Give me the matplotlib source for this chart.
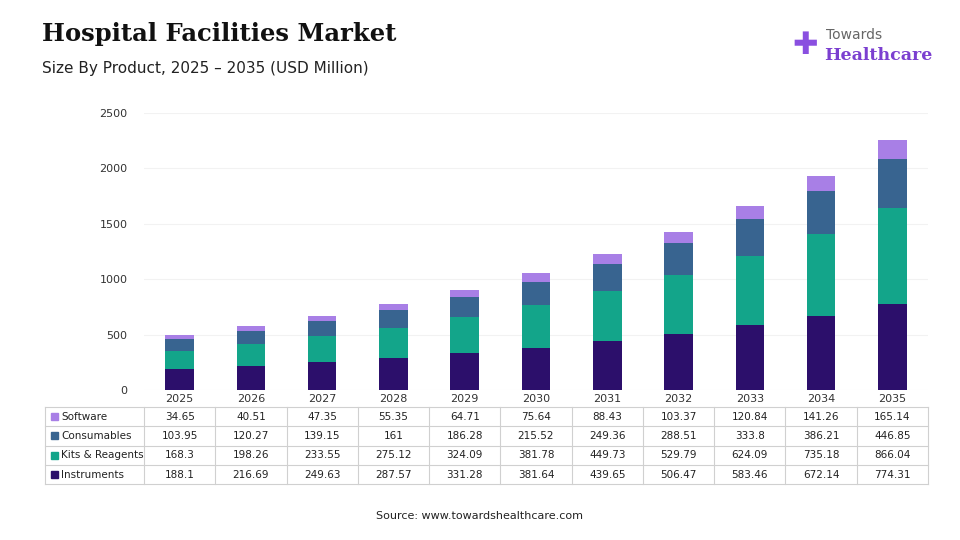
import matplotlib.pyplot as plt
from matplotlib.patches import Rectangle

years = ['2025', '2026', '2027', '2028', '2029', '2030', '2031', '2032', '2033', '2034', '2035']
series = ['Instruments', 'Kits & Reagents', 'Consumables', 'Software']
instruments = [188.1, 216.69, 249.63, 287.57, 331.28, 381.64, 439.65, 506.47, 583.46, 672.14, 774.31]
kits = [168.3, 198.26, 233.55, 275.12, 324.09, 381.78, 449.73, 529.79, 624.09, 735.18, 866.04]
consumables = [103.95, 120.27, 139.15, 161, 186.28, 215.52, 249.36, 288.51, 333.8, 386.21, 446.85]
software = [34.65, 40.51, 47.35, 55.35, 64.71, 75.64, 88.43, 103.37, 120.84, 141.26, 165.14]
colors = ['#2c0f6b', '#13a58a', '#386490', '#a87fe6']

fig = plt.figure(figsize=(9.6, 5.4), dpi=100)
W, H = 960, 540
ax = fig.add_axes([144 / W, 1 - 390 / H, (928 - 144) / W, (390 - 113) / H])

x = list(range(len(years)))
bottom = [0] * len(years)
for name, vals, c in zip(series, [instruments, kits, consumables, software], colors):
    ax.bar(x, vals, 0.4, bottom=bottom, color=c, label=name, zorder=2)
    bottom = [b + v for b, v in zip(bottom, vals)]

ax.set_xlim(-0.5, len(years) - 0.5)
ax.set_ylim(0, 2500)
ax.set_yticks(range(0, 2501, 500))
ax.tick_params(axis='y', labelsize=8, length=0, pad=12, colors='#333333')
ax.set_xticks(x)
ax.set_xticklabels(years)
ax.tick_params(axis='x', labelsize=8, length=0, pad=3, colors='#333333')
ax.grid(axis='y', color='#f2f2f2', lw=0.8, zorder=0)
for s in ax.spines.values():
    s.set_visible(False)

# data table below the chart
rows = [('Software', software, colors[3]), ('Consumables', consumables, colors[2]),
        ('Kits & Reagents', kits, colors[1]), ('Instruments', instruments, colors[0])]
top, rh = 407, 19.3
left0 = 45
colw = (928 - 144) / len(years)
lc = '#d0d0d0'
for i, (name, vals, c) in enumerate(rows):
    y0 = top + i * rh
    yc = 1 - (y0 + rh / 2) / H
    fig.patches.append(Rectangle((51 / W, yc - 3.5 / H), 7 / W, 7 / H, color=c, transform=fig.transFigure))
    fig.text(61 / W, yc, name, fontsize=7.5, va='center', color='#222222')
    for j, v in enumerate(vals):
        fig.text((144 + (j + 0.5) * colw) / W, yc, f'{v:g}', fontsize=7.5, ha='center', va='center', color='#222222')
for i in range(len(rows) + 1):
    yy = 1 - (top + i * rh) / H
    fig.add_artist(plt.Line2D([left0 / W, 928 / W], [yy, yy], color=lc, lw=0.8))
for xx in [left0] + [144 + j * colw for j in range(len(years) + 1)]:
    fig.add_artist(plt.Line2D([xx / W, xx / W], [1 - top / H, 1 - (top + 4 * rh) / H], color=lc, lw=0.8))

fig.text(42 / W, 1 - 34 / H, 'Hospital Facilities Market', fontsize=17.5, fontweight='bold',
         family='DejaVu Serif', va='center', color='#111111')
fig.text(42 / W, 1 - 68 / H, 'Size By Product, 2025 – 2035 (USD Million)', fontsize=11, va='center', color='#222222')
fig.text(480 / W, 1 - 516 / H, 'Source: www.towardshealthcare.com', fontsize=8, ha='center', va='center', color='#222222')

# logo
fig.text(826 / W, 1 - 35 / H, 'Towards', fontsize=10, va='center', color='#666666')
fig.text(824 / W, 1 - 55 / H, 'Healthcare', fontsize=12.5, fontweight='bold', family='DejaVu Serif',
         va='center', color='#7b3fd0')
fig.text(805 / W, 1 - 45 / H, '✚', fontsize=22, ha='center', va='center', color='#8a4fe0')

fig.savefig('out.png', dpi=100)
